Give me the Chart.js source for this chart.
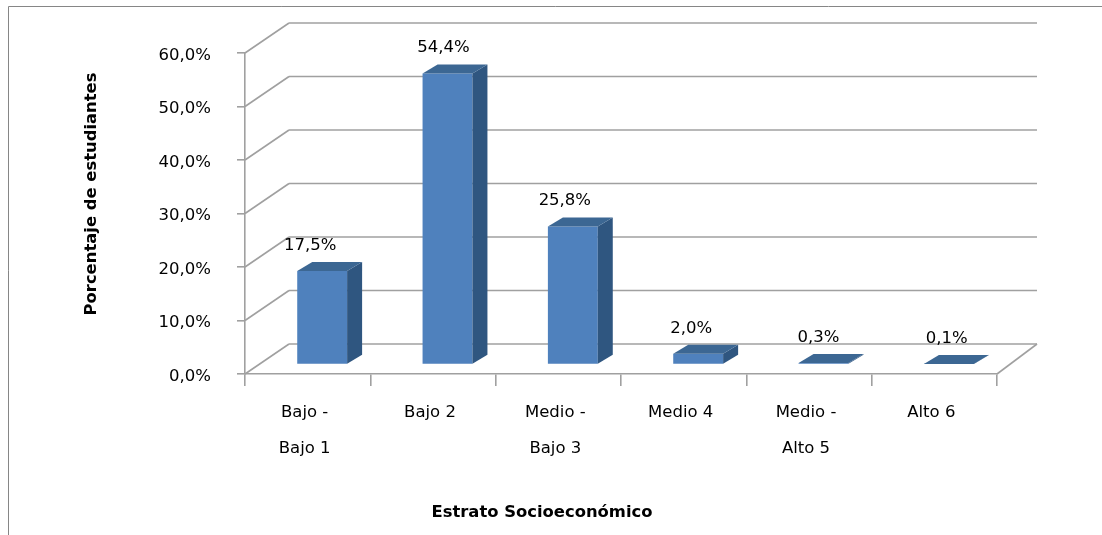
<!DOCTYPE html>
<html>
<head>
<meta charset="utf-8">
<title>Estrato Socioeconómico</title>
<script src="https://cdn.jsdelivr.net/npm/chart.js@4"></script>
<style>
  body { margin: 0; background: #fff; }
  canvas { display: block; }
</style>
</head>
<body>
<canvas id="chart" width="1102" height="535"></canvas>
<script>
const categories = [
  ["Bajo -", "Bajo 1"],
  "Bajo 2",
  ["Medio -", "Bajo 3"],
  "Medio 4",
  ["Medio -", "Alto 5"],
  "Alto 6",
];
const percentages = [17.5, 54.4, 25.8, 2.0, 0.3, 0.1];
const yTicks = [0, 10, 20, 30, 40, 50, 60];
const yTitle = "Porcentaje de estudiantes";
const xTitle = "Estrato Socioeconómico";

const FONT = '"DejaVu Sans", sans-serif';
const GRID = "#a0a0a0";
const FRONT = "#4f81bd";
const SIDE = "#2f5680";
const TOP = "#3c6793";

// el fondo de la caja 3D
const wallDX = 44, wallDY = -30, rightDX = 40;
// profundidad de cada barra y su sitio sobre el piso
const barDX = 15, barDY = -9, floorDX = 14.5, floorDY = -9.5;
// desplazamiento horizontal de cada etiqueta, como en el original
const labelShift = [-12, -4, -8, -7, -5, -2];

function formatPct(v) {
  return v.toFixed(1).replace(".", ",") + "%";
}

function line(ctx, x1, y1, x2, y2) {
  ctx.beginPath();
  ctx.moveTo(x1, y1);
  ctx.lineTo(x2, y2);
  ctx.stroke();
}

function poly(ctx, pts, color) {
  ctx.fillStyle = color;
  ctx.beginPath();
  pts.forEach((p, i) => (i ? ctx.lineTo(p[0], p[1]) : ctx.moveTo(p[0], p[1])));
  ctx.closePath();
  ctx.fill();
}

const box3d = {
  id: "box3d",
  beforeDatasetsDraw(chart) {
    const { ctx, scales, chartArea } = chart;
    ctx.save();

    // marco de la imagen
    ctx.strokeStyle = "#868686";
    ctx.lineWidth = 1;
    line(ctx, 8.5, 6.5, 1102, 6.5);
    line(ctx, 8.5, 6.5, 8.5, 535);

    // paredes
    ctx.strokeStyle = GRID;
    ctx.lineWidth = 1.6;
    yTicks.forEach((t) => {
      const y = scales.y.getPixelForValue(t);
      line(ctx, chartArea.left, y, chartArea.left + wallDX, y + wallDY);
      line(ctx, chartArea.left + wallDX, y + wallDY, chartArea.right + rightDX, y + wallDY);
    });
    const y0 = scales.y.getPixelForValue(0);
    line(ctx, chartArea.right, y0, chartArea.right + rightDX, y0 + wallDY);
    ctx.restore();
  },
  beforeDatasetDraw(chart) {
    chart.ctx.save();
    chart.ctx.translate(floorDX, floorDY);
  },
  afterDatasetDraw(chart, args) {
    const ctx = chart.ctx;
    args.meta.data.forEach((bar) => {
      const p = bar.getProps(["x", "y", "base", "width"], true);
      const l = p.x - p.width / 2;
      const r = p.x + p.width / 2;
      poly(ctx, [[r, p.y], [r + barDX, p.y + barDY], [r + barDX, p.base + barDY], [r, p.base]], SIDE);
      poly(ctx, [[l, p.y], [l + barDX, p.y + barDY], [r + barDX, p.y + barDY], [r, p.y]], TOP);
    });
    ctx.restore();
  },
  afterDatasetsDraw(chart) {
    const { ctx, chartArea } = chart;
    ctx.save();
    ctx.fillStyle = "#000";
    ctx.textAlign = "center";
    ctx.textBaseline = "middle";
    ctx.font = "16.5px " + FONT;
    chart.getDatasetMeta(0).data.forEach((bar, i) => {
      const x = bar.x + floorDX + barDX / 2 - 7.5 + labelShift[i];
      ctx.fillText(formatPct(percentages[i]), x, bar.y + floorDY - 25.5);
    });

    // titulos de los ejes
    ctx.font = "bold 16.4px " + FONT;
    ctx.fillText(xTitle, (chartArea.left + chartArea.right) / 2 - 79, 513);
    ctx.translate(92, 194);
    ctx.rotate(-Math.PI / 2);
    ctx.fillText(yTitle, 0, 0);
    ctx.restore();
  },
};

new Chart(document.getElementById("chart"), {
  type: "bar",
  data: {
    labels: categories,
    datasets: [
      {
        data: percentages,
        backgroundColor: FRONT,
        categoryPercentage: 1,
        barPercentage: 0.398,
      },
    ],
  },
  options: {
    responsive: false,
    animation: false,
    layout: { padding: { top: 53, right: 105, left: 0, bottom: 0 } },
    plugins: { legend: { display: false }, tooltip: { enabled: false } },
    scales: {
      x: {
        afterFit: (s) => { s.height = 161; },
        grid: { drawOnChartArea: false, color: GRID, lineWidth: 1.6, tickLength: 12 },
        border: { color: GRID, width: 1.6 },
        ticks: {
          color: "#000",
          padding: 9,
          labelOffset: -3,
          maxRotation: 0,
          autoSkip: false,
          font: { family: FONT, size: 16.5, lineHeight: 2.18 },
        },
      },
      y: {
        min: 0,
        max: 60,
        afterFit: (s) => { s.width = 245; },
        afterBuildTicks: (s) => { s.ticks = yTicks.map((v) => ({ value: v })); },
        grid: { drawOnChartArea: false, color: GRID, lineWidth: 1.6, tickLength: 8 },
        border: { color: GRID, width: 1.6 },
        ticks: {
          color: "#000",
          padding: 26,
          labelOffset: 2.5,
          font: { family: FONT, size: 16.5 },
          callback: (v) => formatPct(v),
        },
      },
    },
  },
  plugins: [box3d],
});
</script>
</body>
</html>
